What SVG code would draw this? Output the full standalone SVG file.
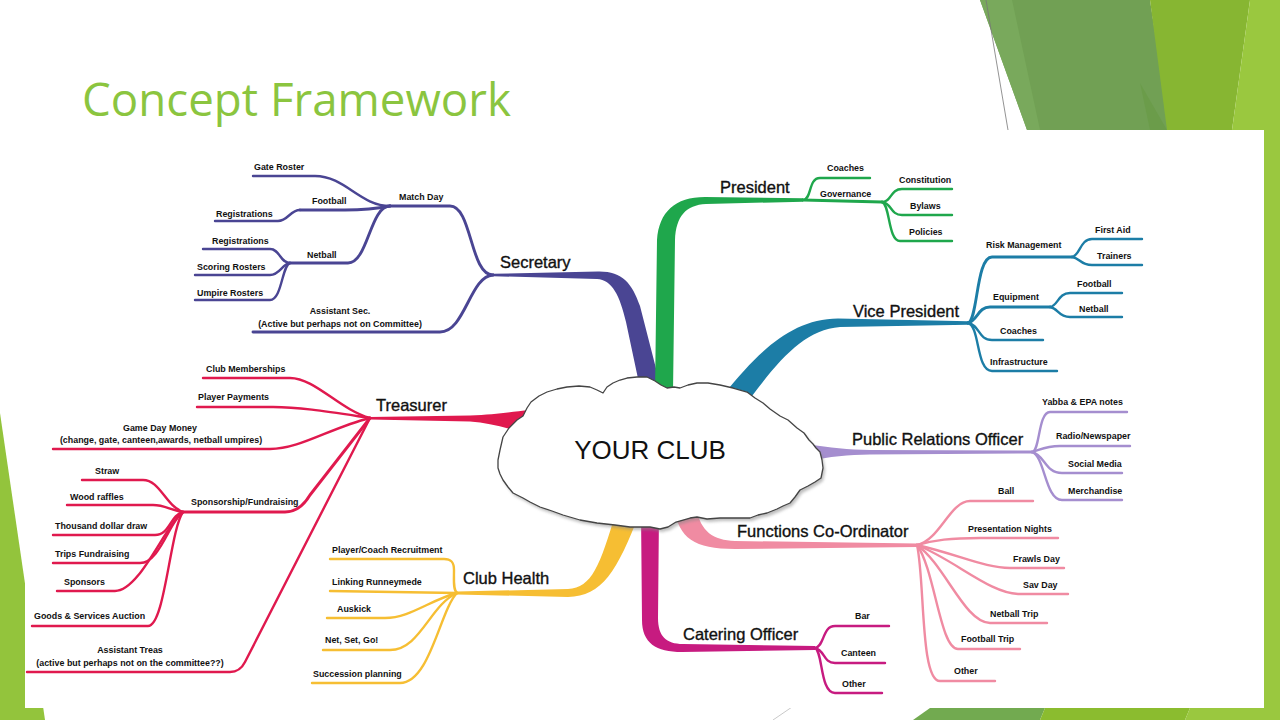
<svg xmlns="http://www.w3.org/2000/svg" width="1280" height="720" viewBox="0 0 1280 720">
<defs>
<style>
.t{font-family:"Liberation Sans",Arial,sans-serif;font-size:8.9px;font-weight:bold;fill:#111}
.m{font-family:"Liberation Sans",Arial,sans-serif;font-size:16.5px;fill:#111;stroke:#111;stroke-width:0.35}
.ln{fill:none;stroke-width:2.4;stroke-linecap:round;stroke-linejoin:round}
.l3{stroke-width:2.9}
.sec{stroke:#4A4593}.pre{stroke:#1FA74C}.vp{stroke:#1C7DA6}.pr{stroke:#A58ECF}
.fn{stroke:#F08BA2}.ca{stroke:#C71B80}.ch{stroke:#F6BE33}.tr{stroke:#E0194E}
</style>
<filter id="sh" x="-10%" y="-10%" width="120%" height="120%"><feGaussianBlur stdDeviation="1.6"/></filter>
</defs>
<rect x="0" y="0" width="1280" height="720" fill="#fff"/>
<g id="decor">
<polygon points="980,0 1150,0 1170,130 1027,130" fill="#71A054"/>
<polygon points="980,0 1012,0 1040,130 1027,130" fill="#79A95C"/>
<polygon points="1140,83 1167,130 1150,130" fill="#6B9C4A"/>
<polygon points="1150,0 1250,0 1232,130 1167,130" fill="#87B632"/>
<polygon points="1250,0 1280,0 1280,720 1232,720 1232,130" fill="#9AC83F"/>
<line x1="986" y1="0" x2="1008" y2="130" stroke="#777" stroke-width="0.8"/>
<polygon points="0,413 45,720 0,720" fill="#93C43C"/>
<polygon points="913,720 930,708 1045,708 1040,720" fill="#72AA50"/>
<polygon points="1040,720 1045,708 1190,708 1185,720" fill="#8BBC2F"/>
<polygon points="1185,720 1190,708 1280,708 1280,720" fill="#9AC83F"/>
<line x1="773" y1="720" x2="792" y2="707" stroke="#bbb" stroke-width="0.8"/>
</g>
<text x="82" y="116" font-family="'Open Sans','Noto Sans',sans-serif" font-size="45" fill="#8BC53F" textLength="429" lengthAdjust="spacingAndGlyphs">Concept Framework</text>
<rect x="25" y="130" width="1239" height="578" fill="#fff"/>

<g id="connectors">
<path d="M493,273.8 L598,271.5 C622,271 632,283 640,306 L661,388 L640,388 L626,322 C620,296 612,279.5 597,279 L493,276.2 Z" fill="#4A4593"/>
<path d="M655,392 L657,240 C659,212 675,197 705,197 L803,198.3 L803,201.7 L706,204 C686,205 676,216 675,240 L673,392 Z" fill="#1FA74C"/>
<path d="M724,394 C760,350 792,319 838,318.5 L968,321.3 L968,324.7 L840,327 C806,330 782,356 752,396 Z" fill="#1C7DA6"/>
<path d="M808,444 C830,448 848,449.5 870,450 L1032,450.6 L1032,453.4 L870,454.5 C848,455 830,456.5 808,461 Z" fill="#A58ECF"/>
<path d="M674,508 C679,538 694,549 735,549 L917,547 L917,543.5 L735,541 C713,540 701,532 696,508 Z" fill="#F08BA2"/>
<path d="M641,512 L642,620 C642,643 656,652 682,652 L815,650 L815,646 L683,644 C666,644 658,636 658,618 L659,512 Z" fill="#C71B80"/>
<path d="M616,512 C600,565 592,588 568,589 L457,591.6 L457,594.4 L568,597 C602,596 617,572 640,512 Z" fill="#F6BE33"/>
<path d="M370,417 L470,415.5 C495,414.5 510,412 530,410 L530,434 C506,428 490,423 470,421.5 L370,419.5 Z" fill="#E0194E"/>
<path class="ln l3 sec" d="M493,275 C470,275 472,206 450,206 L390,206"/>
<path class="ln sec" d="M390,206 C360,206 345,176 315,176 L253,176"/>
<path class="ln l3 sec" d="M390,206 C375,209 360,210 345,210 L300,210"/>
<path class="ln sec" d="M300,210 C290,210 288,221 278,221 L215,221"/>
<path class="ln l3 sec" d="M390,206 C370,206 368,263 348,263 L290,263"/>
<path class="ln sec" d="M290,263 C280,263 280,249 270,249 L203,249"/>
<path class="ln sec" d="M290,263 C282,264 280,275 270,275 L195,275"/>
<path class="ln sec" d="M290,263 C282,265 282,300 270,300 L195,300"/>
<path class="ln l3 sec" d="M493,275 C470,276 465,332 440,332 L253,332"/>
<path class="ln pre" d="M803,200 C812,200 808,178 820,178 L870,178"/>
<path class="ln l3 pre" d="M803,200 L882,202"/>
<path class="ln pre" d="M882,202 C892,202 890,189 902,189 L952,189"/>
<path class="ln pre" d="M882,202 C892,203 890,215 902,215 L952,215"/>
<path class="ln pre" d="M882,202 C890,204 888,241 900,241 L952,241"/>
<path class="ln l3 vp" d="M968,323 C978,320 976,257 992,257 L1072,257"/>
<path class="ln vp" d="M1072,257 C1080,256 1080,239 1092,239 L1142,239"/>
<path class="ln vp" d="M1072,257 C1080,258 1080,265 1092,265 L1142,265"/>
<path class="ln l3 vp" d="M968,323 C978,320 978,307 990,307 L1050,307"/>
<path class="ln vp" d="M1050,307 C1058,306 1058,293 1070,293 L1122,293"/>
<path class="ln vp" d="M1050,307 C1058,308 1058,317 1070,317 L1122,317"/>
<path class="ln vp" d="M968,323 C980,325 978,340 992,340 L1043,340"/>
<path class="ln vp" d="M968,323 C980,326 976,371 992,371 L1057,371"/>
<path class="ln pr" d="M1032,452 C1040,452 1038,412 1050,412 L1127,412"/>
<path class="ln pr" d="M1032,452 C1040,450 1045,446 1060,446 L1130,446"/>
<path class="ln pr" d="M1032,452 C1045,455 1045,473 1062,473 L1122,473"/>
<path class="ln pr" d="M1032,452 C1045,456 1045,500 1062,500 L1122,500"/>
<path class="ln fn" d="M917,545 C940,540 950,501 970,501 L1033,501"/>
<path class="ln fn" d="M917,545 C935,540 950,538 980,538 L1058,538"/>
<path class="ln fn" d="M917,545 C960,555 985,568 1010,568 L1064,568"/>
<path class="ln fn" d="M917,545 C955,560 990,594 1020,594 L1068,594"/>
<path class="ln fn" d="M917,545 C945,565 965,623 990,623 L1047,623"/>
<path class="ln fn" d="M917,545 C935,570 940,649 958,649 L1020,649"/>
<path class="ln fn" d="M917,545 C925,580 920,681 940,681 L995,681"/>
<path class="ln ca" d="M815,648 C825,646 822,626 835,626 L889,626"/>
<path class="ln ca" d="M815,648 C825,650 823,663 835,663 L885,663"/>
<path class="ln ca" d="M815,648 C823,652 820,693 835,693 L882,693"/>
<path class="ln ch" d="M457,593 C453,590 454,580 454,570 C454,562 451,559 444,559 L330,559"/>
<path class="ln ch" d="M457,593 L330,591"/>
<path class="ln ch" d="M457,593 C430,600 410,618 385,618 L327,618"/>
<path class="ln ch" d="M457,593 C430,605 420,650 390,650 L323,650"/>
<path class="ln ch" d="M457,593 C440,610 430,683 400,683 L312,683"/>
<path class="ln tr" d="M370,418 C340,410 315,378 290,378 L203,378"/>
<path class="ln tr" d="M370,418 C330,412 300,407 273,407 L197,407"/>
<path class="ln tr" d="M370,418 C330,428 300,449 270,449 L53,449"/>
<path class="ln l3 tr" d="M370,418 L310,495 Q300,512 285,512 L183,512"/>
<path class="ln tr" d="M370,418 L245,662 Q240,672 230,672 L27,672"/>
<path class="ln tr" d="M183,512 C165,505 160,480 143,480 L82,480"/>
<path class="ln tr" d="M183,512 C170,510 165,505 153,505 L67,505"/>
<path class="ln tr" d="M183,512 C170,515 170,535 155,535 L53,535"/>
<path class="ln tr" d="M183,512 C170,520 160,563 140,563 L53,563"/>
<path class="ln tr" d="M183,512 C165,525 140,591 115,591 L57,591"/>
<path class="ln tr" d="M183,512 C170,530 165,626 148,626 L32,626"/>
</g>

<g id="node-your-club">
<path transform="translate(2,3)" filter="url(#sh)" fill="#888" opacity="0.55" d="M498,460 L500,450 L503,437 L509,428 L517,420 L523,416 L527,408 L531,402 L539,396 L547,392 L557,389 L567,387 L579,386 L590,387 L597,390 L603,393 L607,387 L613,383 L620,380 L627,378 L637,377 L647,377 L655,381 L661,385 L667,388 L674,387 L680,388 L688,385 L697,383 L708,383 L720,385 L733,388 L747,392 L755,398 L763,403 L770,409 L780,416 L788,420 L797,428 L804,433 L809,440 L813,444 L816,448 L820,452 L822,460 L823,468 L821,478 L815,482 L808,486 L800,490 L795,497 L790,503 L783,506 L777,509 L767,513 L758,515 L750,518 L735,518 L720,518 L707,519 L697,517 L690,518 L683,520 L676,522 L668,527 L660,529 L650,527 L640,527 L630,527 L615,525 L597,523 L580,520 L563,515 L552,511 L540,507 L530,502 L523,498 L513,493 L508,487 L503,480 L500,474 L498,468 Z"/>
<path fill="#fff" stroke="#444" stroke-width="1.3" stroke-linejoin="round" d="M498,460 L500,450 L503,437 L509,428 L517,420 L523,416 L527,408 L531,402 L539,396 L547,392 L557,389 L567,387 L579,386 L590,387 L597,390 L603,393 L607,387 L613,383 L620,380 L627,378 L637,377 L647,377 L655,381 L661,385 L667,388 L674,387 L680,388 L688,385 L697,383 L708,383 L720,385 L733,388 L747,392 L755,398 L763,403 L770,409 L780,416 L788,420 L797,428 L804,433 L809,440 L813,444 L816,448 L820,452 L822,460 L823,468 L821,478 L815,482 L808,486 L800,490 L795,497 L790,503 L783,506 L777,509 L767,513 L758,515 L750,518 L735,518 L720,518 L707,519 L697,517 L690,518 L683,520 L676,522 L668,527 L660,529 L650,527 L640,527 L630,527 L615,525 L597,523 L580,520 L563,515 L552,511 L540,507 L530,502 L523,498 L513,493 L508,487 L503,480 L500,474 L498,468 Z"/>
<text x="650" y="459" text-anchor="middle" font-family="'Liberation Sans',Arial,sans-serif" font-size="26" fill="#111">YOUR CLUB</text>
</g>

<g id="node-secretary"><text class="m" x="500" y="268">Secretary</text></g>
<g id="node-match-day"><text class="t" x="399" y="200">Match Day</text></g>
<g id="node-gate-roster"><text class="t" x="254" y="170">Gate Roster</text></g>
<g id="node-sec-football"><text class="t" x="312" y="204">Football</text></g>
<g id="node-sec-registrations-1"><text class="t" x="216" y="217">Registrations</text></g>
<g id="node-sec-netball"><text class="t" x="307" y="258">Netball</text></g>
<g id="node-sec-registrations-2"><text class="t" x="212" y="244">Registrations</text></g>
<g id="node-scoring-rosters"><text class="t" x="197" y="270">Scoring Rosters</text></g>
<g id="node-umpire-rosters"><text class="t" x="197" y="296">Umpire Rosters</text></g>
<g id="node-assistant-sec"><text class="t" x="340" y="314" text-anchor="middle">Assistant Sec.</text><text class="t" x="340" y="327" text-anchor="middle">(Active but perhaps not on Committee)</text></g>

<g id="node-president"><text class="m" x="720" y="193">President</text></g>
<g id="node-pres-coaches"><text class="t" x="827" y="171">Coaches</text></g>
<g id="node-governance"><text class="t" x="820" y="197">Governance</text></g>
<g id="node-constitution"><text class="t" x="899" y="183">Constitution</text></g>
<g id="node-bylaws"><text class="t" x="910" y="209">Bylaws</text></g>
<g id="node-policies"><text class="t" x="909" y="235">Policies</text></g>

<g id="node-vice-president"><text class="m" x="853" y="317">Vice President</text></g>
<g id="node-risk-management"><text class="t" x="986" y="248">Risk Management</text></g>
<g id="node-first-aid"><text class="t" x="1095" y="233">First Aid</text></g>
<g id="node-trainers"><text class="t" x="1097" y="259">Trainers</text></g>
<g id="node-equipment"><text class="t" x="993" y="300">Equipment</text></g>
<g id="node-vp-football"><text class="t" x="1077" y="287">Football</text></g>
<g id="node-vp-netball"><text class="t" x="1079" y="312">Netball</text></g>
<g id="node-vp-coaches"><text class="t" x="1000" y="334">Coaches</text></g>
<g id="node-infrastructure"><text class="t" x="990" y="365">Infrastructure</text></g>

<g id="node-pr-officer"><text class="m" x="852" y="445">Public Relations Officer</text></g>
<g id="node-yabba"><text class="t" x="1042" y="405">Yabba &amp; EPA notes</text></g>
<g id="node-radio"><text class="t" x="1056" y="439">Radio/Newspaper</text></g>
<g id="node-social-media"><text class="t" x="1068" y="467">Social Media</text></g>
<g id="node-merchandise"><text class="t" x="1068" y="494">Merchandise</text></g>

<g id="node-functions"><text class="m" x="737" y="537">Functions Co-Ordinator</text></g>
<g id="node-ball"><text class="t" x="998" y="494">Ball</text></g>
<g id="node-presentation-nights"><text class="t" x="968" y="532">Presentation Nights</text></g>
<g id="node-frawls-day"><text class="t" x="1013" y="562">Frawls Day</text></g>
<g id="node-sav-day"><text class="t" x="1023" y="588">Sav Day</text></g>
<g id="node-netball-trip"><text class="t" x="990" y="617">Netball Trip</text></g>
<g id="node-football-trip"><text class="t" x="961" y="642">Football Trip</text></g>
<g id="node-fn-other"><text class="t" x="954" y="674">Other</text></g>

<g id="node-catering"><text class="m" x="683" y="640">Catering Officer</text></g>
<g id="node-bar"><text class="t" x="855" y="619">Bar</text></g>
<g id="node-canteen"><text class="t" x="841" y="656">Canteen</text></g>
<g id="node-ca-other"><text class="t" x="842" y="687">Other</text></g>

<g id="node-club-health"><text class="m" x="463" y="584">Club Health</text></g>
<g id="node-recruitment"><text class="t" x="332" y="553">Player/Coach Recruitment</text></g>
<g id="node-runneymede"><text class="t" x="332" y="585">Linking Runneymede</text></g>
<g id="node-auskick"><text class="t" x="337" y="612">Auskick</text></g>
<g id="node-netsetgo"><text class="t" x="325" y="643">Net, Set, Go!</text></g>
<g id="node-succession"><text class="t" x="313" y="677">Succession planning</text></g>

<g id="node-treasurer"><text class="m" x="376" y="411">Treasurer</text></g>
<g id="node-club-memberships"><text class="t" x="206" y="372">Club Memberships</text></g>
<g id="node-player-payments"><text class="t" x="198" y="400">Player Payments</text></g>
<g id="node-game-day-money"><text class="t" x="160" y="431" text-anchor="middle">Game Day Money</text><text class="t" x="161" y="443" text-anchor="middle">(change, gate, canteen,awards, netball umpires)</text></g>
<g id="node-sponsorship"><text class="t" x="191" y="505">Sponsorship/Fundraising</text></g>
<g id="node-straw"><text class="t" x="95" y="474">Straw</text></g>
<g id="node-wood-raffles"><text class="t" x="70" y="500">Wood raffles</text></g>
<g id="node-thousand"><text class="t" x="55" y="529">Thousand dollar draw</text></g>
<g id="node-trips"><text class="t" x="55" y="557">Trips Fundraising</text></g>
<g id="node-sponsors"><text class="t" x="64" y="585">Sponsors</text></g>
<g id="node-goods"><text class="t" x="34" y="619">Goods &amp; Services Auction</text></g>
<g id="node-assistant-treas"><text class="t" x="130" y="653" text-anchor="middle">Assistant Treas</text><text class="t" x="130" y="666" text-anchor="middle">(active but perhaps not on the committee??)</text></g>
</svg>
